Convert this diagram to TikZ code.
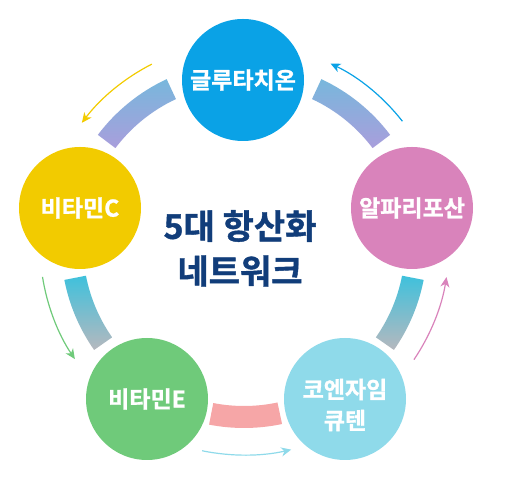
\documentclass[tikz,border=0pt]{standalone}
\usepackage{fontspec}
\setmainfont{Noto Sans CJK KR}[BoldFont={Noto Sans CJK KR Bold}, BoldFeatures={FakeBold=1.2}]
\usetikzlibrary{calc,arrows.meta}
\definecolor{cGlu}{HTML}{0AA2E6}
\definecolor{cVitC}{HTML}{F2CB00}
\definecolor{cAlpha}{HTML}{D983BB}
\definecolor{cVitE}{HTML}{6FCA7A}
\definecolor{cCoQ}{HTML}{8FDAEA}
\definecolor{cTitle}{HTML}{113D7A}
\definecolor{bandBlue}{HTML}{78B7DC}
\definecolor{bandLav}{HTML}{A99EDC}
\definecolor{bandCyan}{HTML}{3FC1DC}
\definecolor{bandGrey}{HTML}{B6B8BE}
\definecolor{bandPink}{HTML}{F6A6A7}
\begin{document}
\begin{tikzpicture}[x=1pt,y=1pt,
  balltext/.style={text=white, font=\fontsize{23}{31}\selectfont\bfseries, align=center},
  ball/.style={circle, minimum size=122pt, inner sep=0pt, balltext},
  titletext/.style={text=cTitle, font=\fontsize{34}{40}\selectfont\bfseries, inner sep=0pt},
  flowarrow/.style={line width=1.2pt, -{Stealth[length=10pt,width=9pt,inset=3pt]}}]
\useasboundingbox (0,0) rectangle (506,497);
\coordinate (O) at (244,252);
% bands
\shade[top color=bandBlue, bottom color=bandLav, shift={(244,252)}]
  (115:161) arc[start angle=115,end angle=143,radius=161] -- (143:183) arc[start angle=143,end angle=115,radius=183] -- cycle;
\shade[top color=bandBlue, bottom color=bandLav, shift={(244,252)}]
  (37:161) arc[start angle=37,end angle=65,radius=161] -- (65:183) arc[start angle=65,end angle=37,radius=183] -- cycle;
\shade[top color=bandCyan, bottom color=bandGrey, shift={(244,252)}]
  (191:161) arc[start angle=191,end angle=215,radius=161] -- (215:183) arc[start angle=215,end angle=191,radius=183] -- cycle;
\shade[top color=bandCyan, bottom color=bandGrey, shift={(244,252)}]
  (325:161) arc[start angle=325,end angle=349,radius=161] -- (349:183) arc[start angle=349,end angle=325,radius=183] -- cycle;
\fill[bandPink, shift={(244,252)}]
  (259:161) arc[start angle=259,end angle=282,radius=161] -- (282:183) arc[start angle=282,end angle=259,radius=183] -- cycle;
% nodes
\node[ball, fill=cGlu] (glu) at (243,417) {글루타치온};
\node[ball, fill=cVitC] (vitc) at (80,289) {비타민C};
\node[ball, fill=cAlpha] (alpha) at (412,289) {알파리포산};
\node[ball, fill=cVitE] (vite) at (147,98) {비타민E};
\node[ball, fill=cCoQ, label={[balltext, yshift=-6pt]center:코엔자임\\큐텐}] (coq) at (345,98) {};
\node[titletext] (t1) at (240,271) {5대 항산화};
\node[titletext] (t2) at (240,226) {네트워크};
% arrow end points
\coordinate (a1s) at ($(O)+(117:203)$);
\coordinate (a2s) at ($(O)+(189:204)$);
\coordinate (a3s) at ($(O)+(258.5:210)$);
\coordinate (a4s) at ($(O)+(326:205)$);
\coordinate (a5s) at ($(O)+(38:201)$);
\draw[flowarrow, cVitC] (a1s) arc[start angle=117,end angle=143,radius=203];
\draw[flowarrow, cVitE] (a2s) arc[start angle=189,end angle=214,radius=204];
\draw[flowarrow, cCoQ] (a3s) arc[start angle=258.5,end angle=283,radius=210];
\draw[flowarrow, cAlpha] (a4s) arc[start angle=326,end angle=351,radius=205];
\draw[flowarrow, cGlu] (a5s) arc[start angle=38,end angle=64.5,radius=201];
\end{tikzpicture}
\end{document}
